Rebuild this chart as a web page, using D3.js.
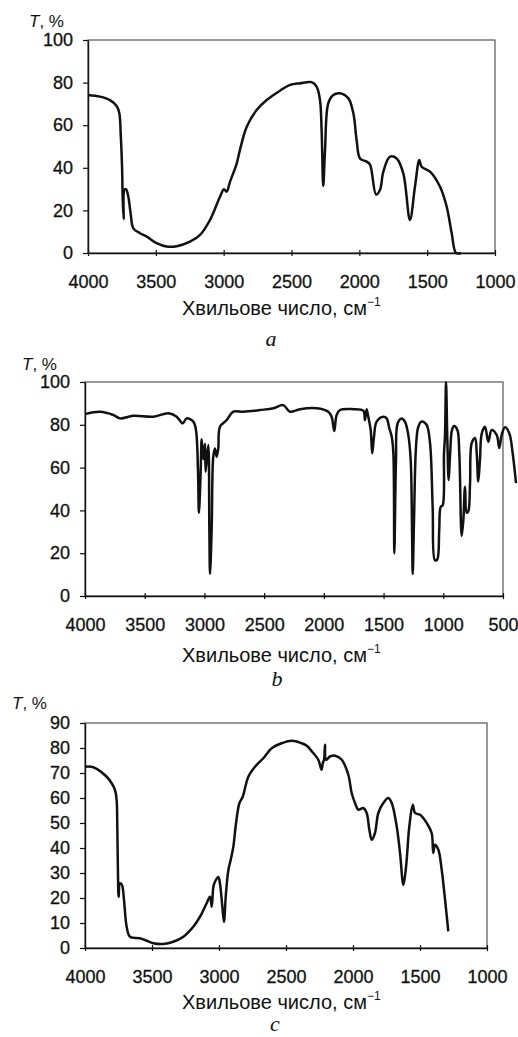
<!DOCTYPE html>
<html>
<head>
<meta charset="utf-8">
<script src="https://cdn.jsdelivr.net/npm/d3@7"></script>
<style>
body { margin: 0; background: #fff; }
text { font-family: "Liberation Sans", Arial, sans-serif; fill: #111; }
</style>
</head>
<body>
<svg id="chart" width="518" height="1037"></svg>
<script>
// spectra: [wavenumber cm-1, T %]
var spectrumA = [[4000,74.2],[3912,73.4],[3838,71.8],[3789,69],[3769,65.6],[3759,56],[3749,40.5],[3744,25],[3737,16],[3732,29.6],[3720,30],[3703,26.5],[3686,18.7],[3666,11.6],[3617,9.3],[3567,7.7],[3494,4.6],[3420,3.0],[3346,3.2],[3248,5.3],[3174,8.5],[3101,15.5],[3027,26.4],[2998,29.9],[2978,28.8],[2953,33.5],[2904,42],[2880,48.4],[2830,59.3],[2757,67.1],[2683,71.8],[2585,76.2],[2511,78.9],[2437,79.7],[2351,80.2],[2314,78],[2290,71.8],[2278,57.7],[2266,31.5],[2253,48],[2229,70.3],[2192,74.2],[2143,75],[2081,72.6],[2044,65.6],[2020,53],[1995,44.4],[1946,42.9],[1921,41.5],[1877,27.5],[1848,29.6],[1823,38.2],[1774,45.2],[1725,44.4],[1676,37.4],[1627,15.5],[1590,31.1],[1558,43.7],[1541,40.5],[1479,38.2],[1405,31.1],[1356,21.7],[1319,9.2],[1287,0],[1250,0]];

var spectrumB = [[4000,85],[3874,86.1],[3763,84.6],[3707,83],[3596,84.2],[3428,83.8],[3302,85.4],[3232,83.8],[3182,80.7],[3149,83],[3093,81.5],[3071,77.6],[3054,58.9],[3046,38.9],[3031,58.9],[3023,73.2],[3009,63.9],[2995,71.2],[2990,58.1],[2968,70.6],[2959,32.4],[2953,10.3],[2939,32.4],[2926,65.1],[2912,68.9],[2898,65.1],[2884,68.9],[2870,79.1],[2814,82.2],[2758,86.1],[2675,86.1],[2535,86.9],[2423,87.7],[2340,89.2],[2284,86.1],[2200,87.3],[2060,87.7],[1963,86.1],[1935,83.8],[1913,77.1],[1893,84.6],[1865,86.9],[1753,87.3],[1670,86.6],[1656,82.2],[1642,87.3],[1628,83.8],[1608,77.6],[1595,66.7],[1580,74.5],[1558,81.5],[1502,83.8],[1474,83],[1452,78.4],[1432,74.5],[1418,66.7],[1410,19.9],[1396,63.6],[1382,80.7],[1348,83],[1321,81.5],[1293,75.3],[1273,63.6],[1262,32.4],[1256,10.3],[1245,35.5],[1228,70.1],[1209,79.1],[1181,81.5],[1140,80],[1111,71.4],[1089,41.6],[1070,16.7],[1051,17],[1034,30.8],[1022,41.6],[1005,42.4],[994,66.7],[986,74.5],[977,100],[966,72.9],[955,54.2],[944,65.1],[927,77.6],[910,79.4],[882,77.6],[866,66.7],[846,28],[832,35.5],[818,51.1],[804,38.9],[790,39.7],[776,52.7],[762,71.4],[734,73.8],[720,66.7],[707,53.5],[693,63.6],[678,75.9],[651,79.1],[623,72.1],[595,77.6],[553,75.3],[531,69.2],[511,75.3],[483,78.8],[447,76],[419,66.7],[391,52.7]];

var spectrumC = [[4000,72.5],[3938,72.3],[3838,68.5],[3801,65.9],[3776,63.2],[3764,59.2],[3759,48.5],[3754,29.9],[3749,20.5],[3739,25.9],[3724,25.2],[3709,19.2],[3689,8.5],[3664,4.5],[3590,3.9],[3540,2.9],[3490,1.9],[3416,1.6],[3341,2.5],[3266,4.5],[3192,8.5],[3142,12.5],[3092,17.9],[3067,20.5],[3054,16.5],[3042,24.5],[3030,26.5],[3005,28.4],[2993,25.9],[2975,16.5],[2963,10.5],[2948,21.9],[2930,31.2],[2913,35.2],[2893,40.5],[2873,49.9],[2848,57.9],[2823,60.5],[2781,68.5],[2731,72.5],[2669,75.9],[2607,79.9],[2532,81.9],[2457,82.9],[2383,81.9],[2345,80.9],[2308,78.7],[2259,75.3],[2240,72],[2234,71.3],[2225,74],[2216,75.3],[2209,81.3],[2201,75.3],[2172,76.6],[2134,76.9],[2084,75.3],[2035,69.3],[2010,62],[1985,58],[1960,55.3],[1923,56],[1898,54],[1878,47.3],[1860,43.3],[1836,46],[1811,54],[1774,58],[1736,60],[1711,58],[1674,48.7],[1649,38],[1624,25.2],[1604,32.5],[1580,48.5],[1554,57.3],[1537,54],[1500,53.3],[1450,50],[1413,46],[1401,38],[1388,41.3],[1363,39.3],[1338,31.3],[1313,19.3],[1289,6.7]];

// tick labels
var xTicksA = [4000, 3500, 3000, 2500, 2000, 1500, 1000];
var xTicksB = [4000, 3500, 3000, 2500, 2000, 1500, 1000, 500];
var xTicksC = [4000, 3500, 3000, 2500, 2000, 1500, 1000];
var yTicks100 = [0, 20, 40, 60, 80, 100];
var yTicks90 = [0, 10, 20, 30, 40, 50, 60, 70, 80, 90];

var xTitle = 'Хвильове число, см';
var panelLetters = ['a', 'b', 'c'];

// layout of each panel (pixels)
var panels = [
    {data: spectrumA, xTicks: xTicksA, yTicks: yTicks100, yMax: 100,
     left: 88, right: 495, top: 40, bottom: 253,
     unitX: 29, unitY: 27, titleY: 315, letterX: 271, letterY: 346},
    {data: spectrumB, xTicks: xTicksB, yTicks: yTicks100, yMax: 100,
     left: 85, right: 503, top: 382, bottom: 596,
     unitX: 22, unitY: 370, titleY: 662, letterX: 277, letterY: 686},
    {data: spectrumC, xTicks: xTicksC, yTicks: yTicks90, yMax: 90,
     left: 85, right: 487, top: 723, bottom: 948,
     unitX: 12, unitY: 709, titleY: 1009, letterX: 275, letterY: 1031}
];

var svg = d3.select('#chart');
var fmt = d3.format('d');

function drawPanel(p, i) {
    var x = d3.scaleLinear()
        .domain([p.xTicks[0], p.xTicks[p.xTicks.length - 1]])
        .range([p.left, p.right]);
    var y = d3.scaleLinear()
        .domain([0, p.yMax])
        .range([p.bottom, p.top]);

    var g = svg.append('g');

    // plot frame (top & right edges look grey in the scan)
    g.append('rect')
        .attr('x', p.left).attr('y', p.top)
        .attr('width', p.right - p.left).attr('height', p.bottom - p.top)
        .attr('fill', 'none')
        .attr('stroke', '#555')
        .attr('stroke-width', 1.2);

    var yAxis = g.append('g')
        .attr('transform', 'translate(' + p.left + ',0)')
        .call(d3.axisLeft(y).tickValues(p.yTicks).tickFormat(fmt)
            .tickSize(5).tickSizeOuter(0).tickPadding(10));

    var xAxis = g.append('g')
        .attr('transform', 'translate(0,' + p.bottom + ')')
        .call(d3.axisBottom(x).tickValues(p.xTicks).tickFormat(fmt)
            .tickSize(3).tickSizeOuter(0).tickPadding(19));
    // ticks cross the axis
    xAxis.selectAll('.tick line').attr('y1', -3).attr('y2', 3);

    [xAxis, yAxis].forEach(function(ax) {
        ax.select('.domain').attr('stroke', '#111').attr('stroke-width', 1.4);
        ax.selectAll('.tick line').attr('stroke', '#111').attr('stroke-width', 1.2);
        ax.selectAll('text')
            .style('font-family', '"Liberation Sans", Arial, sans-serif')
            .style('font-size', '18px')
            .attr('fill', '#111')
            .attr('stroke', '#111')
            .attr('stroke-width', 0.3);
    });

    // spectrum (panel b runs past the right frame, as in the scan)
    var line = d3.line()
        .curve(d3.curveCatmullRom.alpha(0.5))
        .x(function(d) { return x(d[0]); })
        .y(function(d) { return y(d[1]); });
    g.append('path')
        .datum(p.data)
        .attr('d', line)
        .attr('fill', 'none')
        .attr('stroke', '#111')
        .attr('stroke-width', 2.5)
        .attr('stroke-linejoin', 'round');

    // y unit
    var unit = g.append('text')
        .attr('x', p.unitX).attr('y', p.unitY)
        .style('font-size', '17px');
    unit.append('tspan').style('font-style', 'italic').text('T');
    unit.append('tspan').text(', %');

    // x title with superscript
    var title = g.append('text')
        .attr('x', 182).attr('y', p.titleY)
        .style('font-size', '20px');
    title.append('tspan').text(xTitle);
    title.append('tspan').attr('dy', -9).style('font-size', '12px').text('−1');

    // panel letter
    g.append('text')
        .attr('x', p.letterX).attr('y', p.letterY)
        .attr('text-anchor', 'middle')
        .style('font-family', '"Liberation Serif", "Times New Roman", serif')
        .style('font-style', 'italic')
        .style('font-size', '22px')
        .text(panelLetters[i]);
}

panels.forEach(drawPanel);
</script>
</body>
</html>
